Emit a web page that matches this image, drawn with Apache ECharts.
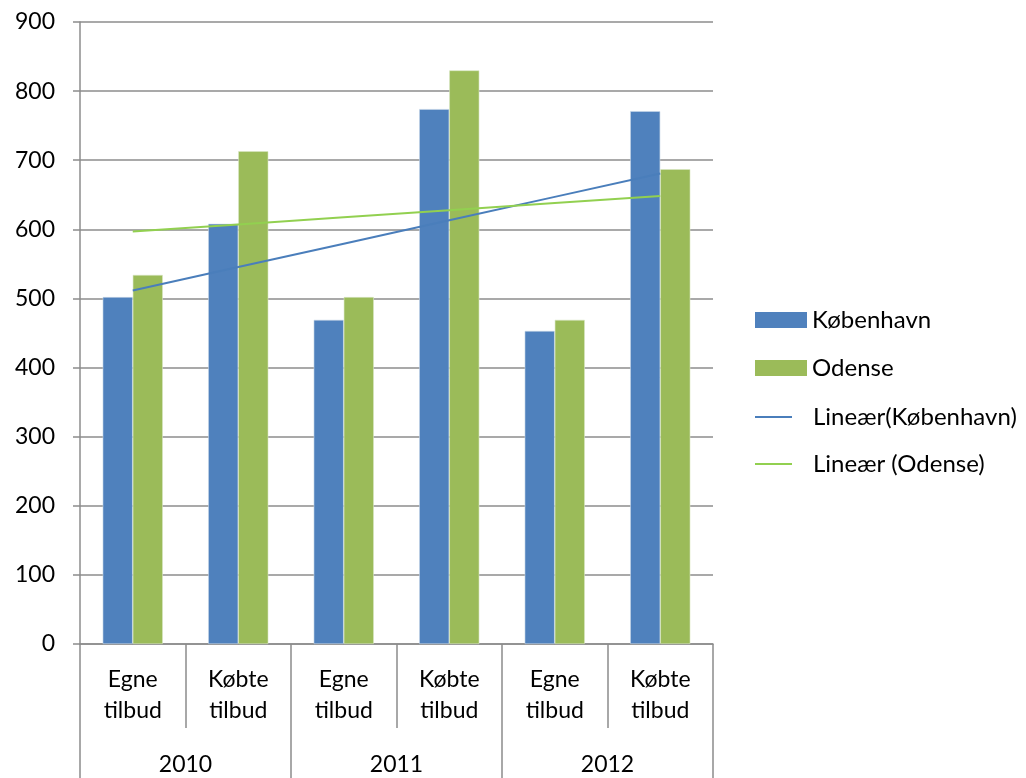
<!DOCTYPE html>
<html>
<head>
<meta charset="utf-8">
<script src="https://cdn.jsdelivr.net/npm/echarts@6/dist/echarts.min.js"></script>
<style>
html,body{margin:0;padding:0;background:#fff;}
#c{width:1026px;height:778px;}
</style>
</head>
<body>
<div id="c"></div>
<script>
var categories = ['Egne\ntilbud', 'Købte\ntilbud', 'Egne\ntilbud', 'Købte\ntilbud', 'Egne\ntilbud', 'Købte\ntilbud'];
var years = ['2010', '2011', '2012'];
var kobenhavn = [502, 608, 469, 774, 453, 771];
var odense = [534, 713, 502, 830, 469, 687];
var yTicks = {min: 0, max: 900, interval: 100};

function linearFit(vals) {
  var n = vals.length, sx = 0, sy = 0, sxx = 0, sxy = 0;
  for (var i = 0; i < n; i++) { var x = i + 1; sx += x; sy += vals[i]; sxx += x * x; sxy += x * vals[i]; }
  var b = (n * sxy - sx * sy) / (n * sxx - sx * sx);
  var a = (sy - b * sx) / n;
  return vals.map(function (v, i) { return a + b * (i + 1); });
}

var FONT = 'Lato';
var GREY = '#8c8c8c';
var legendText = {fontFamily: FONT, fontSize: 24, color: '#000'};
function legendItem(name, top, isLine) {
  return {
    orient: 'vertical', left: 755, top: top, padding: 0,
    itemWidth: isLine ? 37 : 52, itemHeight: isLine ? 2 : 16,
    data: [name], icon: 'rect',
    itemStyle: {borderWidth: 0},
    textStyle: isLine ? Object.assign({padding: [0, 0, 0, 16]}, legendText) : legendText
  };
}
var chart = echarts.init(document.getElementById('c'));
chart.setOption({
  animation: false,
  textStyle: {fontFamily: FONT, color: '#000'},
  grid: {left: 80, right: 313, top: 22, bottom: 134, containLabel: false},
  legend: [
    legendItem('København', 308, false),
    legendItem('Odense', 356, false),
    legendItem('Lineær(København)', 405, true),
    legendItem('Lineær (Odense)', 452, true)
  ],
  xAxis: [{
    type: 'category', data: categories, position: 'bottom',
    axisLine: {show: true, lineStyle: {color: GREY, width: 1.5}},
    axisTick: {show: true, length: 84, interval: 0, lineStyle: {color: GREY, width: 1.5}},
    axisLabel: {interval: 0, fontSize: 23, lineHeight: 31, margin: 20, color: '#000', fontFamily: FONT},
    splitLine: {show: false}
  }, {
    type: 'category', data: years, position: 'bottom', offset: 84,
    axisLine: {show: false},
    axisTick: {show: true, length: 52, interval: 0, lineStyle: {color: GREY, width: 1.5}},
    axisLabel: {interval: 0, fontSize: 23, margin: 25, color: '#000', fontFamily: FONT},
    splitLine: {show: false}
  }],
  yAxis: {
    type: 'value', min: yTicks.min, max: yTicks.max, interval: yTicks.interval,
    axisLine: {show: true, lineStyle: {color: GREY, width: 1.5}},
    axisTick: {show: true, length: 7, lineStyle: {color: GREY, width: 1.5}},
    axisLabel: {fontSize: 23, margin: 25, color: '#000', fontFamily: FONT},
    splitLine: {show: true, lineStyle: {color: GREY, width: 1.5}}
  },
  series: [{
    name: 'København', type: 'bar', data: kobenhavn, barGap: '0%', barCategoryGap: '43%',
    itemStyle: {color: '#4f81bd', borderColor: '#c9d6e8', borderWidth: 0.6}
  }, {
    name: 'Odense', type: 'bar', data: odense,
    itemStyle: {color: '#9bbb59', borderColor: '#d9e6c4', borderWidth: 0.6}
  }, {
    name: 'Lineær(København)', type: 'line', data: linearFit(kobenhavn), symbol: 'none',
    color: '#4a7ebb', lineStyle: {color: '#4a7ebb', width: 2}, z: 5
  }, {
    name: 'Lineær (Odense)', type: 'line', data: linearFit(odense), symbol: 'none',
    color: '#92d050', lineStyle: {color: '#92d050', width: 2}, z: 5
  }]
});
</script>
</body>
</html>
